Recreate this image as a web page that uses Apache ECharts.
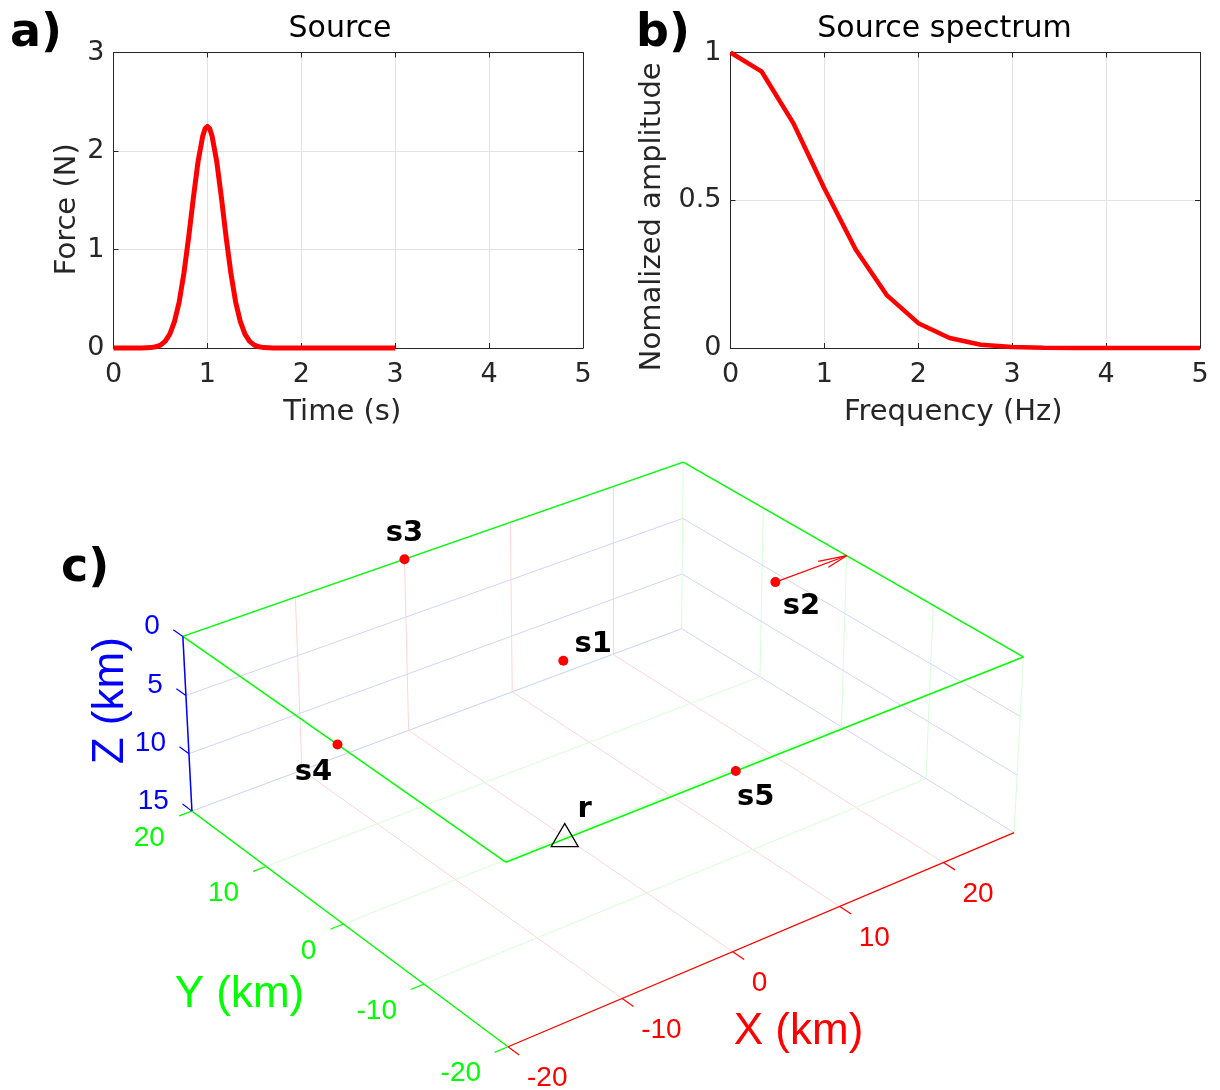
<!DOCTYPE html>
<html>
<head>
<meta charset="utf-8">
<title>Source, spectrum and acquisition geometry</title>
<script src="https://cdn.jsdelivr.net/npm/echarts@6.0.0/dist/echarts.min.js"></script>
<style>
  html, body { margin: 0; padding: 0; background: #ffffff; }
  #chart { width: 1220px; height: 1090px; }
</style>
</head>
<body>
<div id="chart"></div>
<script>
// ---------- (a) source time function ----------
const timeS  = [0, 0.1, 0.2, 0.3, 0.4, 0.45, 0.5, 0.55, 0.6, 0.65, 0.7, 0.75, 0.8, 0.85, 0.9, 0.95, 0.975, 1.0,
                1.025, 1.05, 1.1, 1.15, 1.2, 1.25, 1.3, 1.35, 1.4, 1.45, 1.5, 1.55, 1.6, 1.7, 1.8, 2.0, 2.5, 3.0];
const forceN = [0, 0, 0, 0.001, 0.004, 0.012, 0.029, 0.067, 0.14, 0.27, 0.47, 0.76, 1.12, 1.52, 1.89, 2.15, 2.225, 2.25,
                2.225, 2.15, 1.89, 1.52, 1.12, 0.76, 0.47, 0.27, 0.14, 0.067, 0.029, 0.012, 0.004, 0.001, 0, 0, 0, 0];

// ---------- (b) normalized amplitude spectrum ----------
const freqHz    = [0, 0.333, 0.667, 1.0, 1.333, 1.667, 2.0, 2.333, 2.667, 3.0, 3.333, 3.667, 4.0, 4.333, 4.667, 5.0];
const amplitude = [1, 0.935, 0.762, 0.54, 0.333, 0.178, 0.084, 0.034, 0.011, 0.003, 0.001, 0, 0, 0, 0, 0];

// ---------- (c) acquisition geometry (km, Z positive downward) ----------
const sourceNames = ['s1', 's2', 's3', 's4', 's5'];
const sourceX = [0, 20, 0, -20, 0];
const sourceY = [0, 0, 20, 0, -20];
const sourceZ = [0, 0, 0, 0, 0];
const receiverName = 'r';
const receiverXYZ = [-15, -20, 0];
const forceOrigin = [20, 0, 0];   // point force applied at s2
const forceVector = [7, 0, 0];
const xLim = [-20, 27];
const yLim = [-20, 20];
const zLim = [0, 15];
const xTicks = [-20, -10, 0, 10, 20];
const yTicks = [-20, -10, 0, 10, 20];
const zTicks = [0, 5, 10, 15];

// ---------- styling ----------
const SANS = '"DejaVu Sans", sans-serif';
const HELV = '"Liberation Sans", Arial, sans-serif';
const AXIS = '#262626';
const GRID = '#e3e3e3';
const RED = '#ff0000', GREEN = '#00ff00', BLUE = '#0000ff';
const FAINT_RED = '#ffd6d6', FAINT_GREEN = '#d6ffd6', FAINT_BLUE = '#d3d3ff';

const W = 1220, H = 1090;

// ---------- perspective camera for the 3-D panel ----------
const camera = { azimuth: -37.5, elevation: 30, distance: 340 };
const view = { center: [601.4, 735.2], focal: [4585, 4585] };   // image-plane placement on the canvas
const target = [(xLim[0] + xLim[1]) / 2, (yLim[0] + yLim[1]) / 2, -(zLim[0] + zLim[1]) / 2];

function project(X, Y, Z) {
  const a = camera.azimuth * Math.PI / 180, e = camera.elevation * Math.PI / 180;
  const ca = Math.cos(a), sa = Math.sin(a), ce = Math.cos(e), se = Math.sin(e);
  const rx = X - target[0], ry = Y - target[1], rw = -Z - target[2];
  const sx = rx * ca + ry * sa;
  const sy = -rx * sa * se + ry * ca * se + rw * ce;
  const dz = -rx * sa * ce + ry * ca * ce - rw * se;
  const depth = camera.distance + dz;
  return [sx / depth, sy / depth];
}
const pj = p => project(p[0], p[1], p[2]);

const [xMin, xMax] = xLim, [yMin, yMax] = yLim, [zTop, zBot] = zLim;

// faint grid on floor and back walls
const gridSegs = [];
xTicks.forEach(x => gridSegs.push([[x, yMin, zBot], [x, yMax, zBot], FAINT_RED]));
yTicks.forEach(y => gridSegs.push([[xMin, y, zBot], [xMax, y, zBot], FAINT_GREEN]));
xTicks.forEach(x => gridSegs.push([[x, yMax, zTop], [x, yMax, zBot], FAINT_RED]));
zTicks.forEach(z => gridSegs.push([[xMin, yMax, z], [xMax, yMax, z], FAINT_BLUE]));
yTicks.forEach(y => gridSegs.push([[xMax, y, zTop], [xMax, y, zBot], FAINT_GREEN]));
zTicks.forEach(z => gridSegs.push([[xMax, yMin, z], [xMax, yMax, z], FAINT_BLUE]));

// axes, ticks and the outline of the free surface
const frameSegs = [];
const surface = [[xMin, yMin, zTop], [xMax, yMin, zTop], [xMax, yMax, zTop], [xMin, yMax, zTop]];
surface.forEach((p, i) => frameSegs.push([p, surface[(i + 1) % 4], GREEN, 1.5]));
frameSegs.push([[xMin, yMin, zBot], [xMax, yMin, zBot], RED, 1.3]);
frameSegs.push([[xMin, yMin, zBot], [xMin, yMax, zBot], GREEN, 1.3]);
frameSegs.push([[xMin, yMax, zTop], [xMin, yMax, zBot], BLUE, 1.5]);
xTicks.forEach(x => frameSegs.push([[x, yMin, zBot], [x, yMin - 1.3, zBot], RED, 1.2]));
yTicks.forEach(y => frameSegs.push([[xMin, y, zBot], [xMin - 1.15, y, zBot], GREEN, 1.2]));
zTicks.forEach(z => frameSegs.push([[xMin, yMax, z], [xMin, yMax + 1.3, z], BLUE, 1.2]));

// force arrow (shaft + open head)
const tip = forceOrigin.map((v, i) => v + forceVector[i]);
const headBack = 0.33, headHalf = 0.086;
const len = Math.hypot(forceVector[0], forceVector[1], forceVector[2]);
const dir = forceVector.map(v => v / len);
const side = [-dir[1], dir[0], 0];
const headBase = tip.map((v, i) => v - dir[i] * headBack * len);
const arrowSegs = [
  [forceOrigin, tip],
  [tip, headBase.map((v, i) => v + side[i] * headHalf * len)],
  [tip, headBase.map((v, i) => v - side[i] * headHalf * len)]
];

// text of the 3-D panel
const labelOffsets = { s1: [30, -16], s2: [26, 24.5], s3: [0, -25.5], s4: [-24, 27.5], s5: [20, 26.5], r: [20, -29] };
const c3Texts = [];
xTicks.forEach(x => c3Texts.push({ at: [x, yMin, zBot], text: String(x), color: RED, align: 'left', dx: 19, dy: 32, size: 28, family: HELV }));
yTicks.forEach(y => c3Texts.push({ at: [xMin, y, zBot], text: String(y), color: GREEN, align: 'right', dx: -27, dy: 27, size: 28, family: HELV }));
zTicks.forEach(z => c3Texts.push({ at: [xMin, yMax, z], text: String(z), color: BLUE, align: 'right', dx: -23, dy: -10, size: 28, family: HELV }));
c3Texts.push({ at: [(xMin + xMax) / 2, yMin, zBot], text: 'X (km)', color: RED, align: 'center', dx: 28, dy: 96, size: 44, family: HELV });
c3Texts.push({ at: [xMin, (yMin + yMax) / 2, zBot], text: 'Y (km)', color: GREEN, align: 'center', dx: -104, dy: 71, size: 44, family: HELV });
c3Texts.push({ at: [xMin, yMax, (zTop + zBot) / 2], text: 'Z (km)', color: BLUE, align: 'center', dx: -77, dy: -24, size: 44, family: HELV, rotation: Math.PI / 2 });

// ---------- 2-D panel axes ----------
function bottomAxis(grid, name, namePad) {
  return {
    gridIndex: grid, type: 'value', min: 0, max: 5, interval: 1, position: 'bottom',
    axisLine: { show: true, onZero: false, lineStyle: { color: AXIS, width: 1 } },
    axisTick: { show: true, inside: true, length: 5, lineStyle: { color: AXIS, width: 1 } },
    axisLabel: { color: AXIS, fontFamily: SANS, fontSize: 27, margin: 13, showMinLabel: true, showMaxLabel: true },
    splitLine: { show: true, lineStyle: { color: GRID, width: 1 } },
    name: name, nameLocation: 'middle', nameGap: 50,
    nameTextStyle: { color: AXIS, fontFamily: SANS, fontSize: 29, padding: namePad }
  };
}
function topAxis(grid) {
  return {
    gridIndex: grid, type: 'value', min: 0, max: 5, interval: 1, position: 'top',
    axisLine: { show: true, onZero: false, lineStyle: { color: AXIS, width: 1 } },
    axisTick: { show: true, inside: true, length: 5, lineStyle: { color: AXIS, width: 1 } },
    axisLabel: { show: false }, splitLine: { show: false }
  };
}
function leftAxis(grid, max, interval, name, gap, namePad) {
  return {
    gridIndex: grid, type: 'value', min: 0, max: max, interval: interval, position: 'left',
    axisLine: { show: true, onZero: false, lineStyle: { color: AXIS, width: 1 } },
    axisTick: { show: true, inside: true, length: 5, lineStyle: { color: AXIS, width: 1 } },
    axisLabel: { color: AXIS, fontFamily: SANS, fontSize: 27, margin: 9, showMinLabel: true, showMaxLabel: true },
    splitLine: { show: true, lineStyle: { color: GRID, width: 1 } },
    name: name, nameLocation: 'middle', nameGap: gap,
    nameTextStyle: { color: AXIS, fontFamily: SANS, fontSize: 29, padding: namePad }
  };
}
function rightAxis(grid, max, interval) {
  return {
    gridIndex: grid, type: 'value', min: 0, max: max, interval: interval, position: 'right',
    axisLine: { show: true, onZero: false, lineStyle: { color: AXIS, width: 1 } },
    axisTick: { show: true, inside: true, length: 5, lineStyle: { color: AXIS, width: 1 } },
    axisLabel: { show: false }, splitLine: { show: false }
  };
}

const pointLabel = { show: true, position: 'inside', formatter: '{b}', color: '#000000',
  textBorderWidth: 0, textShadowBlur: 0, fontFamily: SANS, fontWeight: 'bold', fontSize: 29 };

const option = {
  animation: false,
  backgroundColor: '#ffffff',
  grid: [
    { left: 113.5, top: 52.5, width: 469.5, height: 295.5, outerBoundsMode: 'none' },
    { left: 730.5, top: 52.5, width: 469.5, height: 295.5, outerBoundsMode: 'none' },
    { left: 0, top: 0, width: W, height: H, outerBoundsMode: 'none' }
  ],
  xAxis: [
    bottomAxis(0, 'Time (s)', [0, 12, 0, 0]),
    topAxis(0),
    bottomAxis(1, 'Frequency (Hz)', [0, 24, 0, 0]),
    topAxis(1),
    { gridIndex: 2, type: 'value', show: false,
      min: -view.center[0] / view.focal[0], max: (W - view.center[0]) / view.focal[0] }
  ],
  yAxis: [
    leftAxis(0, 3, 1, 'Force (N)', 32, [0, 18, 0, 0]),
    rightAxis(0, 3, 1),
    leftAxis(1, 1, 0.5, 'Nomalized amplitude', 64, [0, 33, 0, 0]),
    rightAxis(1, 1, 0.5),
    { gridIndex: 2, type: 'value', show: false,
      min: -(H - view.center[1]) / view.focal[1], max: view.center[1] / view.focal[1] }
  ],
  graphic: [
    { type: 'text', left: 10, top: 11, style: { text: 'a)', fill: '#000', font: 'bold 46px "DejaVu Sans"' } },
    { type: 'text', left: 636, top: 11, style: { text: 'b)', fill: '#000', font: 'bold 46px "DejaVu Sans"' } },
    { type: 'text', left: 61, top: 546, style: { text: 'c)', fill: '#000', font: 'bold 46px "DejaVu Sans"' } },
    { type: 'text', x: 340, y: 29.5, style: { text: 'Source', fill: '#000', font: '30px "DejaVu Sans"', align: 'center', verticalAlign: 'middle' } },
    { type: 'text', x: 944.5, y: 29.5, style: { text: 'Source spectrum', fill: '#000', font: '30px "DejaVu Sans"', align: 'center', verticalAlign: 'middle' } }
  ],
  series: [
    { type: 'line', xAxisIndex: 0, yAxisIndex: 0, clip: false, showSymbol: false, smooth: false,
      data: timeS.map((t, i) => [t, forceN[i]]),
      lineStyle: { color: RED, width: 5, join: 'round' }, z: 5 },
    { type: 'line', xAxisIndex: 2, yAxisIndex: 2, clip: false, showSymbol: false,
      data: freqHz.map((f, i) => [f, amplitude[i]]),
      lineStyle: { color: RED, width: 4.5 }, z: 5 },
    { type: 'lines', coordinateSystem: 'cartesian2d', xAxisIndex: 4, yAxisIndex: 4, silent: true, z: 1,
      data: gridSegs.map(s => ({ coords: [pj(s[0]), pj(s[1])], lineStyle: { color: s[2], width: 1, opacity: 1 } })) },
    { type: 'lines', coordinateSystem: 'cartesian2d', xAxisIndex: 4, yAxisIndex: 4, silent: true, z: 2,
      data: frameSegs.map(s => ({ coords: [pj(s[0]), pj(s[1])], lineStyle: { color: s[2], width: s[3], opacity: 1 } })) },
    { type: 'lines', coordinateSystem: 'cartesian2d', xAxisIndex: 4, yAxisIndex: 4, silent: true, z: 3,
      data: arrowSegs.map(s => ({ coords: [pj(s[0]), pj(s[1])], lineStyle: { color: RED, width: 1.2, opacity: 1 } })) },
    { type: 'scatter', xAxisIndex: 4, yAxisIndex: 4, z: 4, symbol: 'circle', symbolSize: 10,
      itemStyle: { color: RED, opacity: 1 },
      data: sourceNames.map((n, i) => ({ name: n, value: project(sourceX[i], sourceY[i], sourceZ[i]),
        label: { offset: labelOffsets[n] } })),
      label: pointLabel },
    { type: 'scatter', xAxisIndex: 4, yAxisIndex: 4, z: 4, symbol: 'triangle', symbolSize: [27, 23], symbolOffset: [0, -3.8],
      itemStyle: { color: 'rgba(0,0,0,0)', borderColor: '#000', borderWidth: 1.3, opacity: 1 },
      data: [{ name: receiverName, value: pj(receiverXYZ), label: { offset: [labelOffsets.r[0], labelOffsets.r[1] + 3.8] } }],
      label: pointLabel },
    { type: 'custom', xAxisIndex: 4, yAxisIndex: 4, z: 4, silent: true,
      data: c3Texts.map(s => pj(s.at)),
      renderItem: (params, api) => {
        const s = c3Texts[params.dataIndex];
        const pt = api.coord([api.value(0), api.value(1)]);
        return { type: 'text', x: pt[0] + s.dx, y: pt[1] + s.dy, rotation: s.rotation || 0,
          style: { text: s.text, fill: s.color, fontFamily: s.family, fontSize: s.size,
                   align: s.align, verticalAlign: 'middle' } };
      } }
  ]
};

const chart = echarts.init(document.getElementById('chart'), null, { renderer: 'canvas' });
chart.setOption(option);
</script>
</body>
</html>
